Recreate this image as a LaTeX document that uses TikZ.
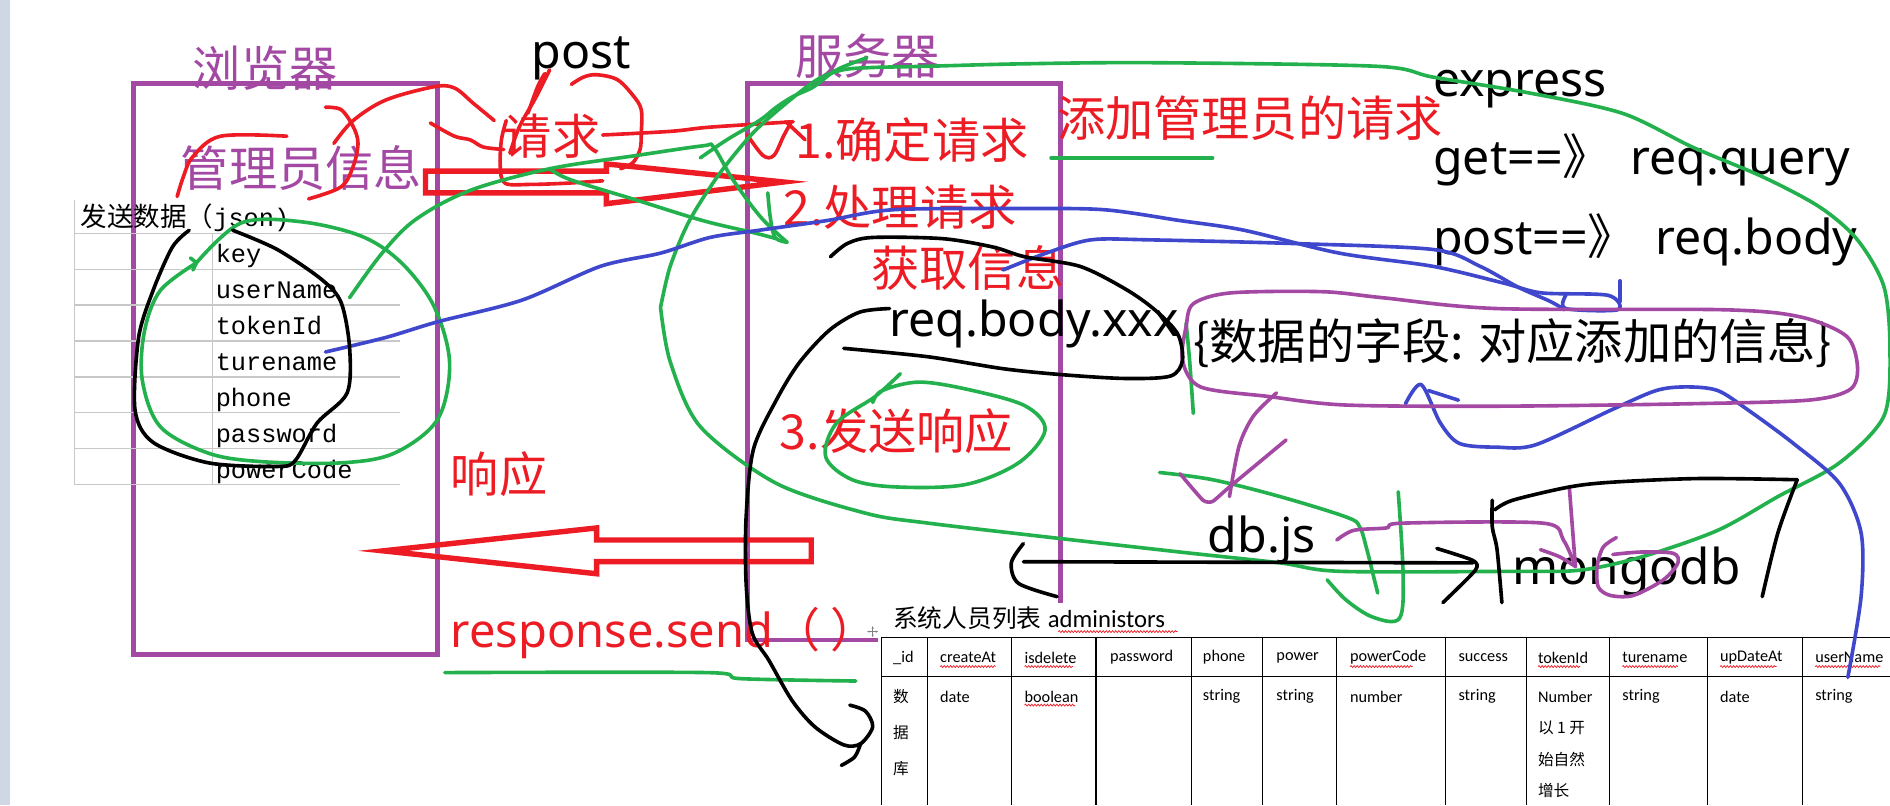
\documentclass[tikz,border=0pt]{standalone}
\usepackage{fontspec}
\setmainfont{Noto Sans}
\newfontfamily\fcjk{Noto Sans CJK SC}
\newfontfamily\fnoto{Noto Sans}
\newfontfamily\fmono{Liberation Mono}
\newfontfamily\fcarl{Carlito}
\usetikzlibrary{decorations.pathmorphing, arrows.meta}
\definecolor{pred}{RGB}{237,28,36}
\definecolor{pgreen}{RGB}{34,177,76}
\definecolor{pblue}{RGB}{63,72,204}
\definecolor{ppurple}{RGB}{163,73,164}
\definecolor{stripc}{RGB}{207,215,228}
\definecolor{gridgray}{RGB}{200,200,200}
\tikzset{
  pen/.style={line width=3pt, line cap=round, line join=round},
  rpen/.style={pen, draw=pred},
  gpen/.style={pen, draw=pgreen},
  bpen/.style={pen, draw=pblue},
  kpen/.style={pen, draw=black},
  ppen/.style={pen, draw=ppurple},
  boxpen/.style={draw=ppurple, line width=4pt},
  hollowarrow/.style={draw=pred, line width=4.5pt, line join=miter},
  lbl/.style={inner sep=0pt, outer sep=0pt},
  redcjk/.style={lbl, anchor=west, text=pred, font=\fcjk\fontsize{40}{48}\selectfont},
  purcjk/.style={lbl, anchor=west, text=ppurple, font=\fcjk\fontsize{40}{48}\selectfont},
  blkcjk/.style={lbl, anchor=west, font=\fcjk\fontsize{40}{48}\selectfont},
  blklat/.style={lbl, anchor=base west, font=\fnoto\fontsize{40}{48}\selectfont},
  redlat/.style={lbl, anchor=base west, text=pred, font=\fnoto\fontsize{39}{46}\selectfont},
  jsonrow/.style={lbl, anchor=base west, font=\fmono\fontsize{21}{24}\selectfont},
  thead/.style={lbl, anchor=west, font=\fcarl\fontsize{13.5}{16}\selectfont},
  tcjk/.style={lbl, anchor=west, font=\fcjk\fontsize{13}{16}\selectfont},
  gridline/.style={draw=gridgray, line width=1pt},
  tabline/.style={draw=black, line width=1pt},
  wavy/.style={draw=pred, line width=0.6pt, decorate, decoration={snake, amplitude=0.8pt, segment length=2.6pt}},
}
\begin{document}
\begin{tikzpicture}[x=1pt,y=-1pt]
\useasboundingbox (0,0) rectangle (1568,668);
\begin{scope}
\clip (0,0) rectangle (1568,668);
\fill[white] (0,0) rectangle (1568,668);
\fill[stripc] (0,0) rectangle (8,668);

% ---------- boxes ----------
\draw[boxpen] (111,69) rectangle (363,543);
\draw[boxpen] (620,69) rectangle (880,531);

% ---------- json table ----------
\foreach \k in {0,...,7} { \draw[gridline] (62,193.5+29.8*\k) -- (332,193.5+29.8*\k); }
\draw[gridline] (62,166) -- (62,402);
\draw[gridline] (176,193.5) -- (176,402);
\node[lbl, anchor=west, font=\fcjk\fontsize{22}{26}\selectfont] (jsonhead) at (67,181) {发送数据（{\fmono\fontsize{21}{24}\selectfont json)}};
\node[jsonrow] (fkey) at (179,218) {key};
\node[jsonrow] (fuser) at (179,247.8) {userName};
\node[jsonrow] (ftoken) at (179,277.6) {tokenId};
\node[jsonrow] (fture) at (179,307.4) {turename};
\node[jsonrow] (fphone) at (179,337.2) {phone};
\node[jsonrow] (fpass) at (179,367) {password};
\node[jsonrow] (fpcode) at (179,396.8) {powerCode};

% ---------- texts ----------
\node[purcjk] (browser) at (160,57) {浏览器};
\node[purcjk] (info) at (150,139) {管理员信息};
\node[purcjk] (server) at (660,47) {服务器};
\node[blklat] (post) at (441,57) {post};
\node[redcjk] (req) at (418,113) {请求};
\node[redcjk] (step1) at (660,116) {1.确定请求};
\node[redcjk] (step2) at (650,172) {2.处理请求};
\node[redcjk] (getinfo) at (723,222) {获取信息};
\node[redcjk] (addreq) at (877,98) {添加管理员的请求};
\node[redcjk] (step3) at (647,358) {3.发送响应};
\node[redcjk] (resp) at (374,393) {响应};
\node[redlat] (send) at (374,537) {response.send{\fcjk（ ）}};
\node[blklat] (express) at (1189,80) {express};
\node[blklat] (getq) at (1189,145) {get=={\fcjk 》}\hspace{6pt} req.query};
\node[blklat] (postb) at (1189,211.5) {post=={\fcjk 》}\hspace{6pt} req.body};
\node[blklat] (reqbody) at (738,279) {req.body.xxx};
\node[blkcjk] (fields) at (990,285) {\{数据的字段: 对应添加的信息\}};
\node[blklat] (dbjs) at (1002,458) {db.js};
\node[blklat, font=\fnoto\fontsize{41}{48}\selectfont] (mongo) at (1255,485) {mongodb};

% ---------- admin table (pasted image) ----------
\fill[white] (728,500) rectangle (1568,668);
\node[lbl, anchor=base west, font=\fontsize{20.5}{24}\selectfont] (tabtitle) at (741,521) {{\fcjk 系统人员列表} {\fcarl administors}};
\draw[tabline] (731,529) -- (1568,529);
\draw[tabline] (731,561) -- (1568,561);
\foreach \c in {731,769.6,838.9,909.3,988.6,1047.3,1108.5,1199.3,1266.4,1335.3,1416.6,1495.4} { \draw[tabline] (\c,529) -- (\c,668); }
\node[thead] (h1) at (741,545.6) {\_id};
\node[thead] (h2) at (780,545.6) {createAt};
\node[thead] (h3) at (850,545.6) {isdelete};
\node[thead] (h4) at (921,545.6) {password};
\node[thead] (h5) at (998,545.6) {phone};
\node[thead] (h6) at (1059,545.6) {power};
\node[thead] (h7) at (1120,545.6) {powerCode};
\node[thead] (h8) at (1210,545.6) {success};
\node[thead] (h9) at (1276,545.6) {tokenId};
\node[thead] (h10) at (1346,545.6) {turename};
\node[thead] (h11) at (1427,545.6) {upDateAt};
\node[thead] (h12) at (1506,545.6) {userName};
\node[tcjk] (d1a) at (741,578) {数};
\node[tcjk] (d1b) at (741,608) {据};
\node[tcjk] (d1c) at (741,638) {库};
\node[thead] (d2) at (780,578) {date};
\node[thead] (d3) at (850,578) {boolean};
\node[thead] (d5) at (998,578) {string};
\node[thead] (d6) at (1059,578) {string};
\node[thead] (d7) at (1120,578) {number};
\node[thead] (d8) at (1210,578) {string};
\node[thead] (d9) at (1276,578) {Number};
\node[tcjk] (d9b) at (1276,604) {以 1 开};
\node[tcjk] (d9c) at (1276,630) {始自然};
\node[tcjk] (d9d) at (1276,656) {增长};
\node[thead] (d10) at (1346,578) {string};
\node[thead] (d11) at (1427,578) {date};
\node[thead] (d12) at (1506,578) {string};
\draw[wavy] (878,524) -- (977,524);
\draw[wavy] (780,553) -- (826,553);
\draw[wavy] (850,553) -- (890,553);
\draw[wavy] (1120,553) -- (1172,553);
\draw[wavy] (1276,553) -- (1311,553);
\draw[wavy] (1346,553) -- (1392,553);
\draw[wavy] (1427,553) -- (1474,553);
\draw[wavy] (1506,553) -- (1560,553);
\draw[wavy] (850,585) -- (892,585);
% move handle
\coordinate (mh) at (724,524);
\draw[gray, line width=0.8pt, {Latex[length=2.5pt]}-{Latex[length=2.5pt]}] ([xshift=-5pt]mh) -- ([xshift=5pt]mh);
\draw[gray, line width=0.8pt, {Latex[length=2.5pt]}-{Latex[length=2.5pt]}] ([yshift=-5pt]mh) -- ([yshift=5pt]mh);

% ---------- red hollow arrows ----------
\draw[hollowarrow] (353,142) -- (503,142) -- (503,136) -- (650,151) -- (503,169) -- (503,160) -- (353,160) -- cycle;
\draw[hollowarrow] (673,448) -- (495,448) -- (495,438) -- (318,457) -- (495,476) -- (495,466) -- (673,466) -- cycle;

% ---------- red scribbles ----------
\draw[rpen] plot[smooth, tension=0.55] coordinates {(147,163) (152,147) (160,130) (183,113) (238,113)};
\draw[rpen] plot[smooth, tension=0.55] coordinates {(270,89) (283,91) (293,105) (297,119) (293,138) (283,155) (256,165)};
\draw[rpen] plot[smooth, tension=0.55] coordinates {(277,119) (293,100) (320,83) (360,72) (377,73) (393,86) (410,100)};
\draw[rpen] plot[smooth, tension=0.55] coordinates {(357,102) (377,113) (390,116) (401,122) (418,124)};
\draw[rpen] plot[smooth, tension=0.55] coordinates {(423,127) (431,105) (445,80) (456,58)};
\draw[rpen] plot[smooth, tension=0.55] coordinates {(438,94) (446,72) (452,61)};
\draw[rpen] plot[smooth, tension=0.55] coordinates {(474,70) (484,64) (495,62) (512,66) (525,79) (532,91) (532,111) (531,124) (525,135) (515,140)};
\draw[rpen] plot[smooth, tension=0.55] coordinates {(420,100) (416,116) (415,138) (419,152) (440,153) (470,152) (500,150)};
\draw[rpen] plot[smooth, tension=0.55] coordinates {(500,112) (556,109) (583,106) (611,104) (658,101)};
\draw[rpen] plot[smooth, tension=0.55] coordinates {(620,112) (633,129) (642,129) (650,113) (656,102)};
\draw[rpen] (652,101) -- (668,116);

% ---------- green strokes ----------
\draw[gpen] plot[smooth, tension=0.55] coordinates {(163,218) (200,185) (250,184) (300,196) (333,218) (360,254) (373,301) (363,348) (327,376) (283,384) (217,383) (173,376) (133,354) (118,315) (120,274) (133,241) (163,218)};
\draw[gpen] (158,214) -- (163,218) -- (160,224);
\draw[gpen] plot[smooth, tension=0.55] coordinates {(290,247) (317,210) (345,182) (390,158) (456,140) (528,129) (583,121) (592,122) (608,149) (631,180) (653,201)};
\draw[gpen] plot[smooth, tension=0.55] coordinates {(637,160) (639,180) (643,197) (653,201)};
\draw[gpen] plot[smooth, tension=0.55] coordinates {(456,140) (473,149) (528,166) (583,183) (625,193) (644,198)};
\draw[gpen] plot[smooth, tension=0.55] coordinates {(581,131) (603,116) (630,100) (644,89) (658,80) (675,72) (694,58) (719,48)};
\draw[gpen] plot[smooth, tension=0.5] coordinates {(548,255) (556,221) (572,183) (597,144) (625,110) (653,85) (678,66) (699,58) (724,56) (769,55) (846,53) (954,52) (1142,55) (1189,64) (1268,77) (1346,94) (1404,122) (1463,147) (1510,172) (1541,199) (1563,238) (1568,290) (1563,345) (1526,384) (1475,412) (1425,440) (1362,462) (1311,473) (1255,474) (1112,474) (1062,467) (979,458) (864,445) (770,434) (719,426) (644,401) (581,354) (556,300) (548,255)};
\draw[gpen] (872,131) -- (1006,131);
\draw[gpen] plot[smooth, tension=0.55] coordinates {(747,310) (726,329) (694,351) (685,379) (707,398) (744,404) (801,402) (845,384) (867,357) (851,337) (807,324) (763,317) (732,324) (724,334)};
\draw[gpen] plot[smooth, tension=0.5] coordinates {(369,558) (586,558) (614,563) (710,565)};
\draw[gpen] plot[smooth, tension=0.55] coordinates {(962,392) (1006,398) (1062,412) (1117,429) (1128,437) (1134,456) (1139,476) (1143,492)};
\draw[gpen] plot[smooth, tension=0.55] coordinates {(1101,481) (1117,498) (1139,512) (1161,513) (1164,476) (1160,408)};
\draw[gpen] plot[smooth, tension=0.55] coordinates {(984,268) (987,300) (990,343)};

% ---------- blue strokes ----------
\draw[bpen] plot[smooth, tension=0.5] coordinates {(270,292) (320,280) (363,267) (433,249) (498,221) (548,210) (589,197) (630,191) (686,183) (741,174) (846,173) (916,174) (979,183) (1032,191) (1111,210) (1189,221) (1248,235) (1279,243) (1334,245) (1342,257) (1299,256) (1299,245)};
\draw[bpen] (1344,233) -- (1344,250);
\draw[bpen] plot[smooth, tension=0.5] coordinates {(832,224) (868,210) (905,199) (954,199) (1072,202) (1189,207) (1228,221) (1259,238) (1286,250) (1298,257)};
\draw[bpen] plot[smooth, tension=0.5] coordinates {(1166,335) (1179,319) (1195,351) (1211,368) (1242,371) (1274,369) (1337,340) (1374,324) (1399,321) (1425,324) (1450,340) (1488,368) (1526,401) (1544,442) (1544,495) (1533,562)};
\draw[bpen] (1185,324) -- (1210,332);

% ---------- purple strokes ----------
\draw[ppen] plot[smooth cycle, tension=0.5] coordinates {(990,252) (1021,243) (1097,242) (1147,247) (1242,256) (1431,257) (1494,263) (1532,279) (1541,304) (1535,323) (1500,332) (1400,335) (1242,337) (1116,336) (1053,329) (996,321) (981,299) (984,271)};
\draw[ppen] plot[smooth, tension=0.5] coordinates {(1059,326) (1040,345) (1028,370) (1020,412)};
\draw[ppen] plot[smooth, tension=0.3] coordinates {(979,393) (998,415) (1006,416) (1020,404) (1067,365)};
\draw[ppen] plot[smooth, tension=0.5] coordinates {(1109,448) (1123,440) (1150,438) (1164,434) (1280,434) (1297,448) (1307,470)};
\draw[ppen] (1302,405) -- (1307,470);
\draw[ppen] plot[smooth, tension=0.5] coordinates {(1278,456) (1294,462) (1307,470)};
\draw[ppen] plot[smooth, tension=0.5] coordinates {(1341,446) (1330,454) (1325,470) (1326,487) (1336,494) (1355,494) (1380,481) (1392,467) (1388,459) (1361,458) (1338,460)};

% ---------- black strokes ----------
\draw[kpen] plot[smooth, tension=0.5] coordinates {(157,191) (143,205) (127,241) (115,280) (112,340) (127,367) (173,384) (230,387) (245,382) (263,351) (288,326) (290,288) (283,251) (267,232) (230,207) (193,191)};
\draw[kpen] plot[smooth, tension=0.5] coordinates {(689,213) (703,202) (724,197) (782,198) (824,205) (850,213) (896,221) (934,240) (958,257) (977,277) (981,299) (971,312) (934,314) (883,311) (833,306) (770,296) (700,289)};
\draw[kpen] plot[smooth, tension=0.5] coordinates {(738,256) (713,259) (688,274) (663,301) (644,332) (625,373) (619,429) (619,484) (624,525) (638,548) (657,581) (676,603) (700,618) (714,617) (724,603) (718,590) (705,585)};
\draw[kpen] plot[smooth, tension=0.5] coordinates {(714,617) (709,628) (698,635)};
\coordinate (arrS) at (849,466);
\coordinate (arrE) at (1222,467);
\draw[kpen] plot[smooth, tension=0.5] coordinates {(849,451) (839,467) (845,484) (877,495)};
\draw[kpen] (arrS) -- (arrE);
\draw[kpen] plot[smooth, tension=0.4] coordinates {(1192,455) (1222,465) (1224,473) (1197,500)};
\draw[kpen] plot[smooth, tension=0.5] coordinates {(1238,415) (1238,437) (1242,456) (1246,500)};
\draw[kpen] plot[smooth, tension=0.5] coordinates {(1240,423) (1255,415) (1302,404) (1338,400) (1410,397) (1491,398)};
\draw[kpen] plot[smooth, tension=0.5] coordinates {(1491,398) (1475,442) (1462,495)};
\end{scope}
\end{tikzpicture}
\end{document}
